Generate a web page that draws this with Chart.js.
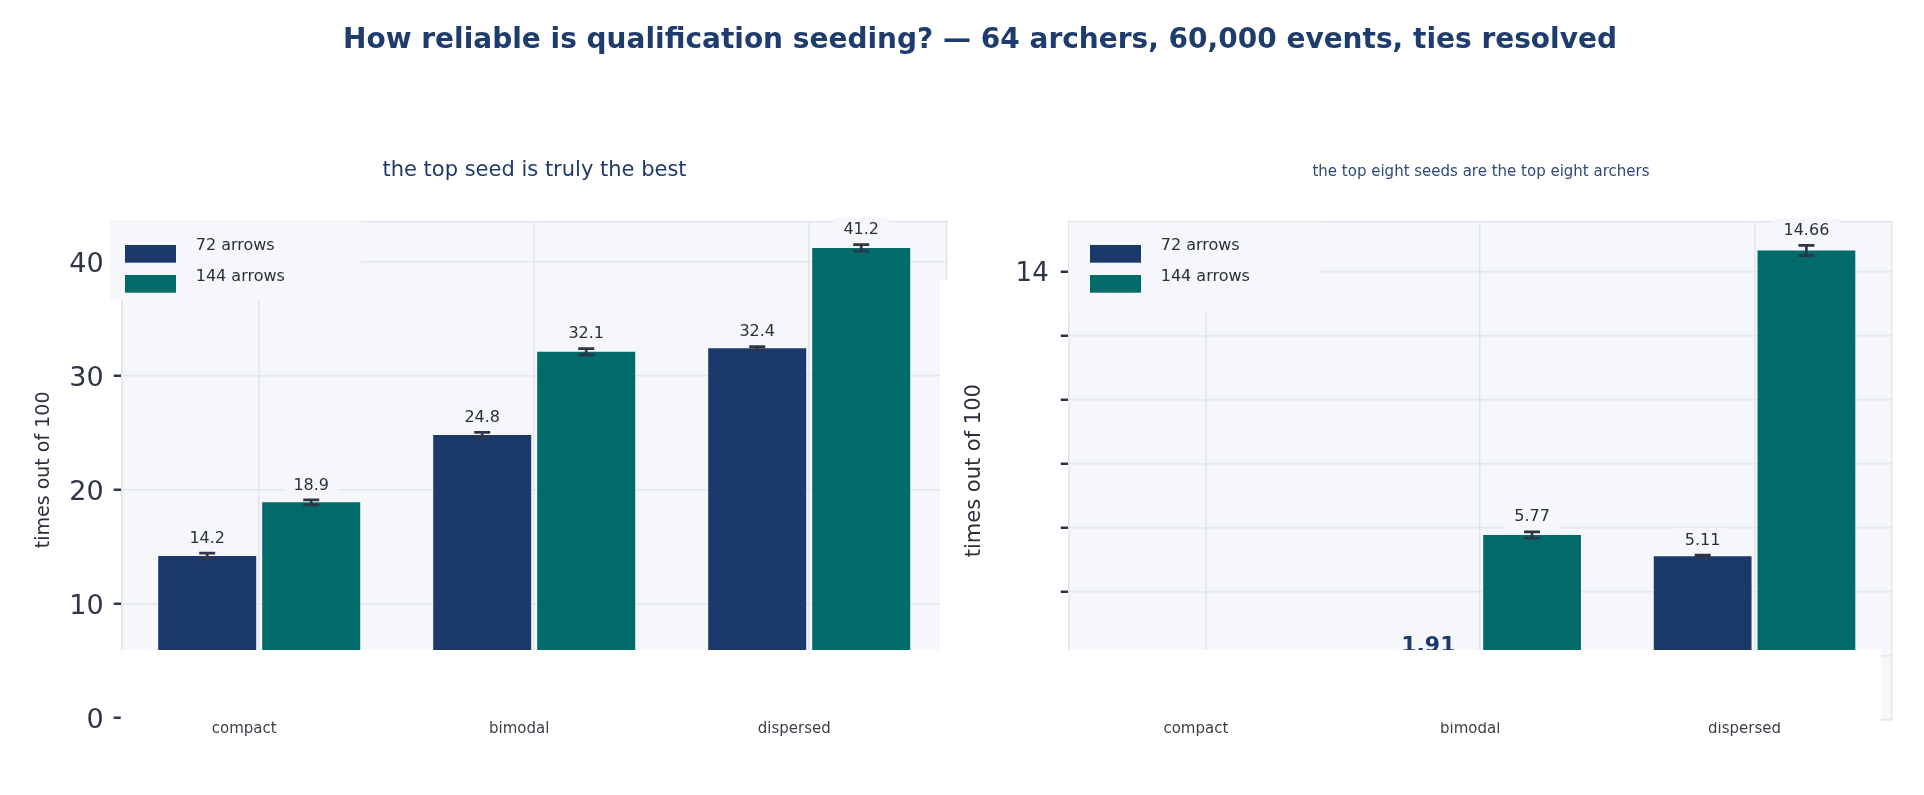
<!DOCTYPE html>
<html><head><meta charset="utf-8">
<script src="https://cdn.jsdelivr.net/npm/chart.js@4.4.1/dist/chart.umd.min.js"></script>
<style>
html,body{margin:0;padding:0;background:#fff;width:1924px;height:795px;overflow:hidden;}
#wrap{position:relative;width:1924px;height:795px;background:#fff;}
canvas{position:absolute;left:0;top:0;width:1924px;height:795px;}
.t{position:absolute;white-space:nowrap;text-align:center;font-family:"DejaVu Sans";line-height:1;}
</style></head><body>
<div id="wrap">
<canvas id="cL" width="1924" height="795"></canvas>
<canvas id="cR" width="1924" height="795"></canvas>
<div class="t" style="left:280px;width:1400px;top:24.6px;font-size:28px;font-weight:bold;color:#1f3c6e;">How reliable is qualification seeding? — 64 archers, 60,000 events, ties resolved</div>
<div class="t" style="left:234.5px;width:600px;top:158.9px;font-size:21px;color:#1f3a6b;">the top seed is truly the best</div>
<div class="t" style="left:1181px;width:600px;top:164px;font-size:15px;color:#2e4a78;">the top eight seeds are the top eight archers</div>
</div>
<script>
// ---- data ----
const categories = ['compact', 'bimodal', 'dispersed'];
const seriesNames = ['72 arrows', '144 arrows'];
const topSeed72 = [14.2, 24.8, 32.4];
const topSeed144 = [18.9, 32.1, 41.2];
const topSeedErr72 = [0.25, 0.24, 0.15];
const topSeedErr144 = [0.22, 0.28, 0.29];
const topEight72 = [0.62, 1.91, 5.11];
const topEight144 = [1.18, 5.77, 14.66];
const topEightErr72 = [0.05, 0.08, 0.03];
const topEightErr144 = [0.07, 0.10, 0.16];
const leftTicks = [0, 10, 20, 30, 40];
const rightTicks = [0, 2, 4, 6, 8, 10, 12, 14];
const rightLabeledTicks = [14];

// ---- styles ----
const NAVY = '#1c396b', TEAL = '#006b68';
const PLOT_BG = '#f5f7fb', GRID = '#e1e6ee', TICK = '#2d3546', ERR = '#2d3547';
const LABEL = '#2b2f38', XLAB = '#3b3f48', AXT = '#2b2f3a';
const FONT = 'DejaVu Sans';
Chart.defaults.font.family = FONT;

function drawFrame(chart) {
  const {ctx, chartArea: a} = chart;
  ctx.save();
  ctx.fillStyle = PLOT_BG;
  ctx.fillRect(a.left, a.top, a.right - a.left, a.bottom - a.top);
  ctx.strokeStyle = GRID; ctx.lineWidth = 1.5;
  ctx.strokeRect(a.left, a.top, a.right - a.left, a.bottom - a.top);
  ctx.restore();
}

function drawLegend(chart, box, swDx, txDx) {
  const {ctx, chartArea: a} = chart;
  ctx.save();
  ctx.fillStyle = PLOT_BG;
  ctx.fillRect(a.left + box[0], a.top + box[1], box[2] - box[0], box[3] - box[1]);
  chart.data.datasets.forEach((ds, i) => {
    ctx.fillStyle = ds.backgroundColor;
    ctx.fillRect(a.left + swDx, a.top + 23.3 + 30 * i, 51, 17.7);
    ctx.fillStyle = LABEL;
    ctx.font = '16px "' + FONT + '"';
    ctx.textBaseline = 'middle'; ctx.textAlign = 'left';
    ctx.fillText(ds.label, a.left + txDx, a.top + 24 + 31 * i);
  });
  ctx.restore();
}

function drawErrLabels(chart, errs, decimals) {
  const ctx = chart.ctx, ys = chart.scales.y;
  ctx.save();
  chart.data.datasets.forEach((ds, di) => {
    const meta = chart.getDatasetMeta(di);
    meta.data.forEach((bar, i) => {
      const v = ds.data[i], e = errs[di][i], x = bar.x;
      const yTop = ys.getPixelForValue(v);
      const yHi = ys.getPixelForValue(v + e), yLo = ys.getPixelForValue(v - e);
      const txt = v.toFixed(decimals);
      if (v < 3) {
        ctx.font = 'bold 22px "' + FONT + '"';
        ctx.fillStyle = ds.backgroundColor;
        ctx.textAlign = 'center'; ctx.textBaseline = 'alphabetic';
        ctx.fillText(txt, x, yTop - 7);
        return;
      }
      ctx.strokeStyle = ERR; ctx.lineWidth = 2.7;
      ctx.beginPath();
      ctx.moveTo(x, yHi); ctx.lineTo(x, yLo);
      ctx.moveTo(x - 8, yHi); ctx.lineTo(x + 8, yHi);
      ctx.moveTo(x - 8, yLo); ctx.lineTo(x + 8, yLo);
      ctx.stroke();
      ctx.font = '16px "' + FONT + '"';
      const w = ctx.measureText(txt).width;
      const cy = yHi - 14.5;
      ctx.fillStyle = PLOT_BG;
      ctx.fillRect(x - w / 2 - 9.5, cy - 12.5, w + 19, 24);
      ctx.fillStyle = LABEL;
      ctx.textAlign = 'center'; ctx.textBaseline = 'middle';
      ctx.fillText(txt, x, cy);
    });
  });
  ctx.restore();
}

function makeDatasets(a, b) {
  return [
    {label: seriesNames[0], data: a, backgroundColor: NAVY, categoryPercentage: 0.7564, barPercentage: 0.9423},
    {label: seriesNames[1], data: b, backgroundColor: TEAL, categoryPercentage: 0.7564, barPercentage: 0.9423}
  ];
}

const leftPlugin = {
  id: 'leftDeco',
  beforeDraw: c => drawFrame(c),
  afterDatasetsDraw: c => {
    drawLegend(c, [-11.7, -1.7, 239.3, 79], 3.3, 74);
    drawErrLabels(c, [topSeedErr72, topSeedErr144], 1);
  },
  afterDraw: c => {
    const {ctx, chartArea: a} = c;
    ctx.save();
    ctx.fillStyle = '#ffffff';
    const colX = a.right - 6.7;
    ctx.fillRect(a.left - 1, a.bottom - 68, colX - (a.left - 1), 70.5);
    ctx.fillRect(colX, a.top + 58.3, 80, a.bottom + 2.5 - (a.top + 58.3));
    ctx.restore();
  }
};

const rightPlugin = {
  id: 'rightDeco',
  beforeDraw: c => drawFrame(c),
  afterDatasetsDraw: c => {
    drawLegend(c, [0.3, 0.3, 251.3, 90.3], 21.3, 92);
    drawErrLabels(c, [topEightErr72, topEightErr144], 2);
  },
  afterDraw: c => {
    const {ctx, chartArea: a} = c;
    ctx.save();
    ctx.fillStyle = '#ffffff';
    ctx.fillRect(a.left - 10, a.bottom - 69.7, (a.right - 11) - (a.left - 10), 72.2);
    ctx.restore();
  }
};

new Chart(document.getElementById('cL'), {
  type: 'bar',
  data: {labels: categories, datasets: makeDatasets(topSeed72, topSeed144)},
  options: {
    responsive: false, animation: false, devicePixelRatio: 1,
    layout: {padding: {left: 21.7, right: 977.3, top: 221.7, bottom: 37}},
    plugins: {legend: {display: false}, tooltip: {enabled: false}},
    scales: {
      x: {
        grid: {offset: false, color: GRID, lineWidth: 1.5, drawTicks: false},
        border: {display: false},
        ticks: {color: XLAB, font: {size: 15}, labelOffset: -15, padding: 1.8, maxRotation: 0, autoSkip: false},
        afterFit: s => { s.height = 40; }
      },
      y: {
        min: 0, max: 43.5,
        afterBuildTicks: s => { s.ticks = leftTicks.map(v => ({value: v})); },
        grid: {color: GRID, lineWidth: 1.5, tickLength: 8, tickColor: TICK, tickWidth: 2.5},
        border: {color: GRID, width: 1.5},
        ticks: {color: TICK, font: {size: 27}, padding: 10, labelOffset: 3},
        title: {display: true, text: 'times out of 100', color: AXT, font: {size: 19}, padding: {top: 10.9, bottom: 0}},
        afterFit: s => { s.width = 100; }
      }
    }
  },
  plugins: [leftPlugin]
});

new Chart(document.getElementById('cR'), {
  type: 'bar',
  data: {labels: categories, datasets: makeDatasets(topEight72, topEight144)},
  options: {
    responsive: false, animation: false, devicePixelRatio: 1,
    layout: {padding: {left: 958.7, right: 32.3, top: 221.7, bottom: 35.3}},
    plugins: {legend: {display: false}, tooltip: {enabled: false}},
    scales: {
      x: {
        grid: {offset: false, color: GRID, lineWidth: 1.5, drawTicks: false},
        border: {display: false},
        ticks: {color: XLAB, font: {size: 15}, labelOffset: -10, padding: 0.5, maxRotation: 0, autoSkip: false},
        afterFit: s => { s.height = 40; }
      },
      y: {
        min: 0, max: 15.56,
        afterBuildTicks: s => { s.ticks = rightTicks.map(v => ({value: v})); },
        grid: {color: GRID, lineWidth: 1.5, tickLength: 8, tickColor: TICK, tickWidth: 2.5},
        border: {color: GRID, width: 1.5},
        ticks: {color: TICK, font: {size: 26}, padding: 12, labelOffset: 3,
                callback: v => rightLabeledTicks.includes(v) ? String(v) : ''},
        title: {display: true, text: 'times out of 100', color: AXT, font: {size: 21}, padding: {top: 3.7, bottom: 0}},
        afterFit: s => { s.width = 110; }
      }
    }
  },
  plugins: [rightPlugin]
});
</script>
</body></html>
